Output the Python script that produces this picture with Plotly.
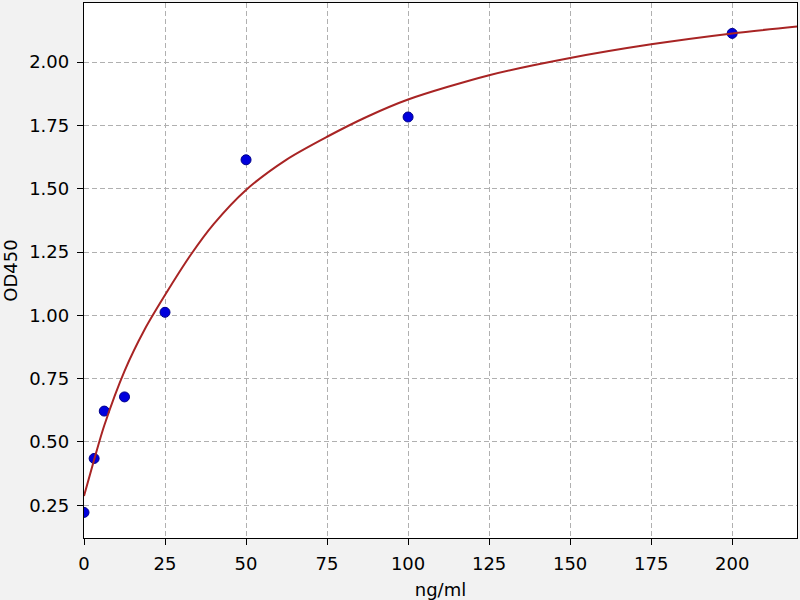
import plotly.graph_objects as go

# standard points (ng/ml vs OD450)
conc = [0, 3.125, 6.25, 12.5, 25, 50, 100, 200]
od = [0.222, 0.435, 0.622, 0.678, 1.012, 1.614, 1.783, 2.113]

# fitted curve
fit_x = [0, 3.125, 6.25, 12.5, 18.75, 25, 33, 40, 50, 62.5, 75, 87.5, 100, 125, 150, 175, 200, 220]
fit_y = [0.287, 0.43, 0.565, 0.78, 0.945, 1.08, 1.24, 1.36, 1.495, 1.615, 1.705, 1.785, 1.852, 1.948, 2.016, 2.07, 2.113, 2.14]

x_ticks = [0, 25, 50, 75, 100, 125, 150, 175, 200]
y_ticks = [0.25, 0.5, 0.75, 1.0, 1.25, 1.5, 1.75, 2.0]

fig = go.Figure()
fig.add_trace(go.Scatter(x=conc, y=od, mode='markers',
                         marker=dict(color='#0000dd', size=10, line=dict(color='#00008b', width=1))))
fig.add_trace(go.Scatter(x=fit_x, y=fit_y, mode='lines', line_shape='spline', line_smoothing=0.8,
                         line=dict(color='#a82424', width=2)))

axis_style = dict(showline=True, linecolor='black', linewidth=1.3, mirror=True,
                  ticks='outside', ticklen=6, tickwidth=1.2, tickcolor='black',
                  showgrid=True, gridcolor='#b0b0b0', griddash='5px,3px', gridwidth=1,
                  zeroline=False, tickfont=dict(size=18, color='black'),
                  title_font=dict(size=18, color='black'))

fig.update_xaxes(range=[0, 220], tickvals=x_ticks, title_text='ng/ml',
                 title_standoff=10, ticklabelstandoff=3, **axis_style)
fig.update_yaxes(range=[0.121, 2.233], tickvals=y_ticks, tickformat='.2f', title_text='OD450',
                 title_standoff=8, ticklabelstandoff=4, **axis_style)

fig.update_layout(width=800, height=600,
                  font_family='DejaVu Sans',
                  showlegend=False,
                  plot_bgcolor='white',
                  paper_bgcolor='#f2f2f2',
                  margin=dict(l=84, r=3, t=3, b=62))

fig.write_html("out.html", config={'displayModeBar': False},
               post_script="document.body.style.margin='0';")
